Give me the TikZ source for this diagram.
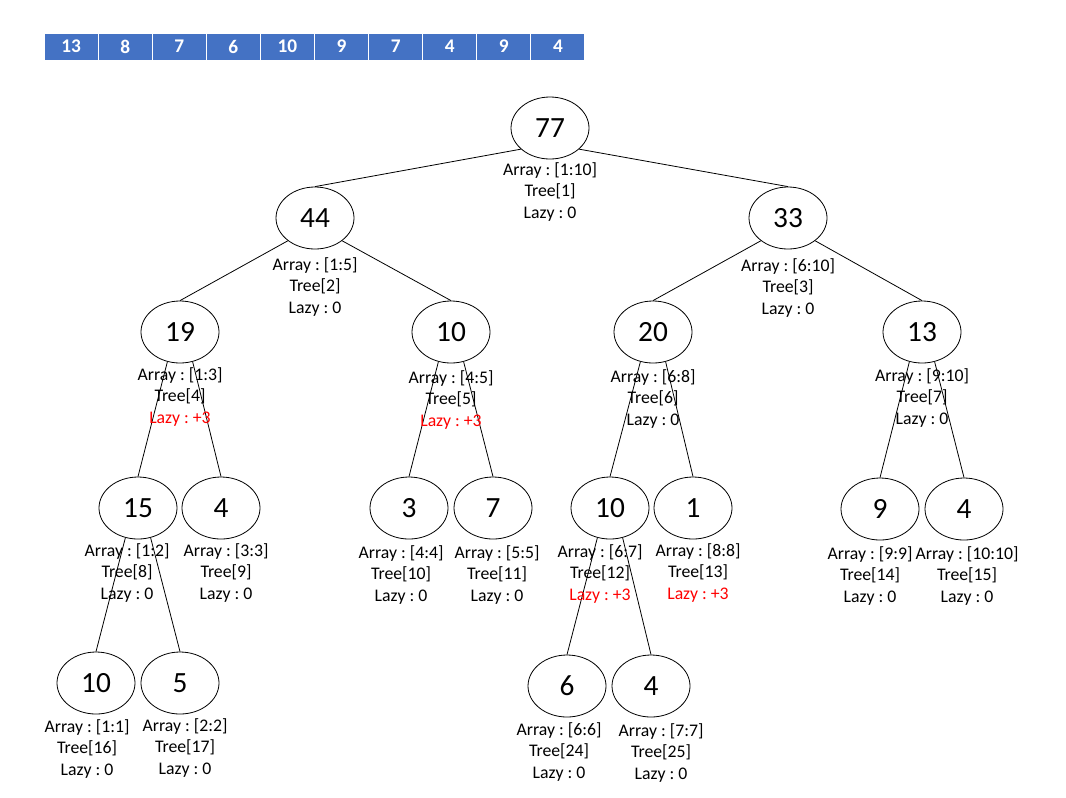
\documentclass[tikz,border=0pt]{standalone}
\usepackage{fontspec}
\setmainfont{Carlito}
\usepackage{xcolor}
\usetikzlibrary{shapes.geometric}
\definecolor{CellBlue}{RGB}{68,114,196}
\definecolor{LazyRed}{RGB}{255,0,0}
\frenchspacing

\begin{document}
\begin{tikzpicture}[x=0.75pt, y=-0.75pt, line width=0.6pt,
		seg/.style={draw, ellipse, minimum width=58.5pt, minimum height=46.5pt, inner sep=0pt, font=\fontsize{22}{26}\selectfont},
		info/.style={align=center, inner sep=0pt, font=\fontsize{13.3}{16.1}\selectfont},
		cell/.style={fill=CellBlue, draw=white, line width=0.8pt, minimum width=40.6pt, minimum height=20.3pt, inner sep=0pt, text=white, font=\fontsize{14.5}{16}\selectfont\bfseries}]
		\useasboundingbox (0,0) rectangle (1066,797);
		% 原数组
		\foreach \v [count=\i] in {13,8,7,6,10,9,7,4,9,4}
			\node[cell] (a\i) at ({44+54.1*(\i-0.5)},46.5) {\v};
		% 线段树结点
		\node[seg] (t1) at (550,128) {77};
		\node[seg] (t2) at (315,218) {44};
		\node[seg] (t3) at (788,218) {33};
		\node[seg] (t4) at (180,332) {19};
		\node[seg] (t5) at (451,332) {10};
		\node[seg] (t6) at (653,332) {20};
		\node[seg] (t7) at (922,332) {13};
		\node[seg] (t8) at (138,508) {15};
		\node[seg] (t9) at (221,508) {4};
		\node[seg] (t10) at (409,508) {3};
		\node[seg] (t11) at (493,508) {7};
		\node[seg] (t12) at (610,508) {10};
		\node[seg] (t13) at (693,508) {1};
		\node[seg] (t14) at (880,509) {9};
		\node[seg] (t15) at (964,509) {4};
		\node[seg] (t16) at (96,683) {10};
		\node[seg] (t17) at (180,683) {5};
		\node[seg] (t24) at (567,686) {6};
		\node[seg] (t25) at (651,686) {4};
		% 边
		\draw (t1.216) -- (t2.north);
		\draw (t1.324) -- (t3.north);
		\draw (t2.220) -- (t4.north);
		\draw (t2.320) -- (t5.north);
		\draw (t3.220) -- (t6.north);
		\draw (t3.320) -- (t7.north);
		\draw (t4.247) -- (t8.north);
		\draw (t4.293) -- (t9.north);
		\draw (t5.247) -- (t10.north);
		\draw (t5.293) -- (t11.north);
		\draw (t6.247) -- (t12.north);
		\draw (t6.293) -- (t13.north);
		\draw (t7.247) -- (t14.north);
		\draw (t7.293) -- (t15.north);
		\draw (t8.247) -- (t16.north);
		\draw (t8.293) -- (t17.north);
		\draw (t12.247) -- (t24.north);
		\draw (t12.293) -- (t25.north);
		% 结点信息
		\node[info] (l1) at (550,192) {Array : [1:10]\\Tree[1]\\Lazy : 0};
		\node[info] (l2) at (315,287) {Array : [1:5]\\Tree[2]\\Lazy : 0};
		\node[info] (l3) at (788,288) {Array : [6:10]\\Tree[3]\\Lazy : 0};
		\node[info] (l4) at (180,397) {Array : [1:3]\\Tree[4]\\\textcolor{LazyRed}{Lazy : +3}};
		\node[info] (l5) at (451,400) {Array : [4:5]\\Tree[5]\\\textcolor{LazyRed}{Lazy : +3}};
		\node[info] (l6) at (653,399) {Array : [6:8]\\Tree[6]\\Lazy : 0};
		\node[info] (l7) at (922,398) {Array : [9:10]\\Tree[7]\\Lazy : 0};
		\node[info] (l8) at (127,573) {Array : [1:2]\\Tree[8]\\Lazy : 0};
		\node[info] (l9) at (226,573) {Array : [3:3]\\Tree[9]\\Lazy : 0};
		\node[info] (l10) at (401,575) {Array : [4:4]\\Tree[10]\\Lazy : 0};
		\node[info] (l11) at (497,575) {Array : [5:5]\\Tree[11]\\Lazy : 0};
		\node[info] (l12) at (600,574) {Array : [6:7]\\Tree[12]\\\textcolor{LazyRed}{Lazy : +3}};
		\node[info] (l13) at (698,573) {Array : [8:8]\\Tree[13]\\\textcolor{LazyRed}{Lazy : +3}};
		\node[info] (l14) at (870,576) {Array : [9:9]\\Tree[14]\\Lazy : 0};
		\node[info] (l15) at (967,576) {Array : [10:10]\\Tree[15]\\Lazy : 0};
		\node[info] (l16) at (87,749) {Array : [1:1]\\Tree[16]\\Lazy : 0};
		\node[info] (l17) at (185,748) {Array : [2:2]\\Tree[17]\\Lazy : 0};
		\node[info] (l24) at (559,752) {Array : [6:6]\\Tree[24]\\Lazy : 0};
		\node[info] (l25) at (661,753) {Array : [7:7]\\Tree[25]\\Lazy : 0};
	\end{tikzpicture}
\end{document}
